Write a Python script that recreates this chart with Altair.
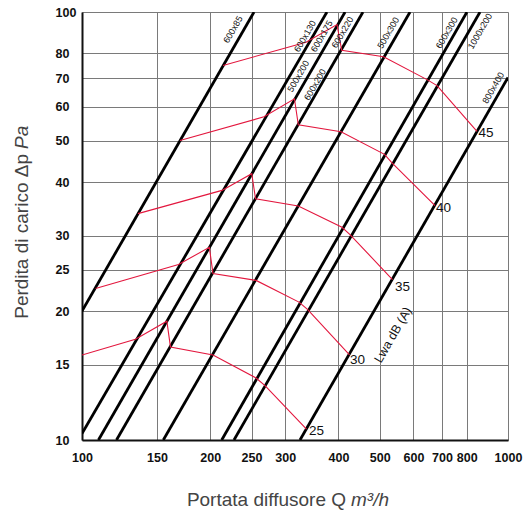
import altair as alt
import pandas as pd

# ---- black diffuser lines (start / end points in Q m3/h, dp Pa) ----
line_names = ["600x85", "600x130", "600x175", "600x220", "500x300", "600x300", "1000x200", "800x400"]
line_q_start = [100, 100, 109.3, 120.5, 155.2, 212.8, 227.4, 324.9]
line_dp_start = [20, 10.35, 10, 10, 10, 10, 10, 10]
line_q_end = [253.4, 375.8, 414.5, 456.6, 588.8, 801, 859.6, 1000]
line_dp_end = [100, 100, 100, 100, 100, 100, 100, 70.3]

# ---- red noise curves Lwa dB(A) ----
curve_levels = [25, 30, 35, 40, 45]
curve_q = {
    25: [100, 133.5, 158.2, 161.3, 203, 256.2, 268.9, 336.5],
    30: [107.6, 168.5, 199, 203, 256.2, 323.1, 338.3, 424.6],
    35: [135.3, 213.1, 250.3, 255.5, 321.9, 407.6, 425.7, 535.6],
    40: [169.8, 267.4, 315.3, 321.9, 405.5, 513.1, 534.2, 674.1],
    45: [214.3, 335.6, 396.8, 407, 510.3, 645.5, 681.4, 845.7],
}
curve_dp = {
    25: [15.8, 17.2, 18.95, 16.5, 15.8, 13.96, 13.4, 10.6],
    30: [22.6, 25.7, 28.2, 24.5, 23.6, 21.0, 20.2, 15.8],
    35: [33.8, 38.3, 41.9, 36.6, 35.2, 31.4, 30.2, 23.7],
    40: [50.1, 56.9, 62.7, 54.5, 52.5, 46.5, 44.4, 35.3],
    45: [75.0, 85.0, 93.5, 81.4, 78.6, 69.5, 67.3, 52.6],
}

# ---- labels of diffuser sizes ----
size_labels = ["600x85", "600x130", "600x175", "600x220", "500x200", "600x200",
               "500x300", "600x300", "1000x200", "800x400"]
size_label_q = [226.2, 333.8, 365.3, 408.8, 321.9, 352.4, 523.6, 718, 859.7, 923.6]
size_label_dp = [91.0, 87.8, 87.8, 89.6, 70.8, 67.7, 89.4, 89.4, 90.2, 66.5]

# ---- labels of curve levels ----
level_label_q = [341.2, 425.7, 542.8, 677.6, 852.8]
level_label_dp = [10.5, 15.4, 22.8, 34.8, 52.2]

lwa_label = "Lwa dB (A)"
lwa_q, lwa_dp = 537.1, 17.6

x_ticks = [100, 150, 200, 250, 300, 400, 500, 600, 700, 800, 1000]
y_ticks = [10, 15, 20, 25, 30, 40, 50, 60, 70, 80, 100]

FONT = "Liberation Sans, Arial, sans-serif"

rows = []
for i, n in enumerate(line_names):
    rows.append({"name": n, "o": 0, "Q": line_q_start[i], "dp": line_dp_start[i]})
    rows.append({"name": n, "o": 1, "Q": line_q_end[i], "dp": line_dp_end[i]})
lines_df = pd.DataFrame(rows)

crow = []
for lv in curve_levels:
    for j, (q, d) in enumerate(zip(curve_q[lv], curve_dp[lv])):
        crow.append({"level": lv, "o": j, "Q": q, "dp": d})
curves_df = pd.DataFrame(crow)

size_df = pd.DataFrame({"t": size_labels, "Q": size_label_q, "dp": size_label_dp})
lvl_df = pd.DataFrame({"t": [str(v) for v in curve_levels], "Q": level_label_q, "dp": level_label_dp})
lwa_df = pd.DataFrame({"t": [lwa_label], "Q": [lwa_q], "dp": [lwa_dp]})

xs = alt.Scale(type="log", domain=[100, 1000], nice=False, zero=False)
ys = alt.Scale(type="log", domain=[10, 100], nice=False, zero=False)

X = alt.X("Q:Q", scale=xs, title=None,
          axis=alt.Axis(values=x_ticks, format="d", grid=True, tickSize=0, labelPadding=11,
                        labelFontWeight="bold", labelFontSize=12.5, labelFont=FONT,
                        labelColor="#111", domainColor="#111", domainWidth=2,
                        gridColor="#7a7a7a", gridWidth=1, labelFlush=False))
Y = alt.Y("dp:Q", scale=ys, title=None,
          axis=alt.Axis(values=y_ticks, format="d", grid=True, tickSize=0, labelPadding=27,
                        labelAlign="left", labelFontWeight="bold", labelFontSize=12.5,
                        labelFont=FONT, labelColor="#111", domainColor="#111", domainWidth=2,
                        gridColor="#7a7a7a", gridWidth=1, labelFlush=False))

black = alt.Chart(lines_df).mark_line(color="#000", strokeWidth=2.8, clip=True).encode(
    x=X, y=Y, detail="name:N", order="o:Q")

red = alt.Chart(curves_df).mark_line(color="#e3173e", strokeWidth=1.1, clip=True).encode(
    x=X, y=Y, detail="level:N", order="o:Q")

sizes = alt.Chart(size_df).mark_text(angle=300, font=FONT, fontSize=9, color="#111",
                                     align="center", baseline="middle").encode(x=X, y=Y, text="t:N")

levels = alt.Chart(lvl_df).mark_text(font=FONT, fontSize=13.5, color="#111",
                                     align="left", baseline="middle").encode(x=X, y=Y, text="t:N")

lwa = alt.Chart(lwa_df).mark_text(angle=300, font=FONT, fontSize=12.5, color="#111",
                                  align="center", baseline="middle").encode(x=X, y=Y, text="t:N")

title_df = pd.DataFrame({"a": [0]})
xt1 = alt.Chart(title_df).mark_text(font=FONT, fontSize=19, color="#444", align="right",
                                    baseline="alphabetic").encode(
    x=alt.value(264), y=alt.value(494), text=alt.value("Portata diffusore Q"))
xt2 = alt.Chart(title_df).mark_text(font=FONT, fontSize=19, color="#444", align="left",
                                    baseline="alphabetic", fontStyle="italic").encode(
    x=alt.value(269), y=alt.value(494), text=alt.value("m³/h"))
yt1 = alt.Chart(title_df).mark_text(font=FONT, fontSize=19, color="#444", align="right",
                                    baseline="alphabetic", angle=270).encode(
    x=alt.value(-54), y=alt.value(142), text=alt.value("Perdita di carico Δp"))
yt2 = alt.Chart(title_df).mark_text(font=FONT, fontSize=19, color="#444", align="left",
                                    baseline="alphabetic", angle=270, fontStyle="italic").encode(
    x=alt.value(-54), y=alt.value(137), text=alt.value("Pa"))

chart = alt.layer(black, red, sizes, levels, lwa, xt1, xt2, yt1, yt2).properties(
    width=426, height=428,
    padding={"left": 82, "top": 12, "right": 18, "bottom": 75},
    autosize=alt.AutoSizeParams(type="none"),
).configure_view(stroke="#555", strokeWidth=1).configure(background="white")

chart.save("out.html", embed_options={"renderer": "svg", "actions": False})
